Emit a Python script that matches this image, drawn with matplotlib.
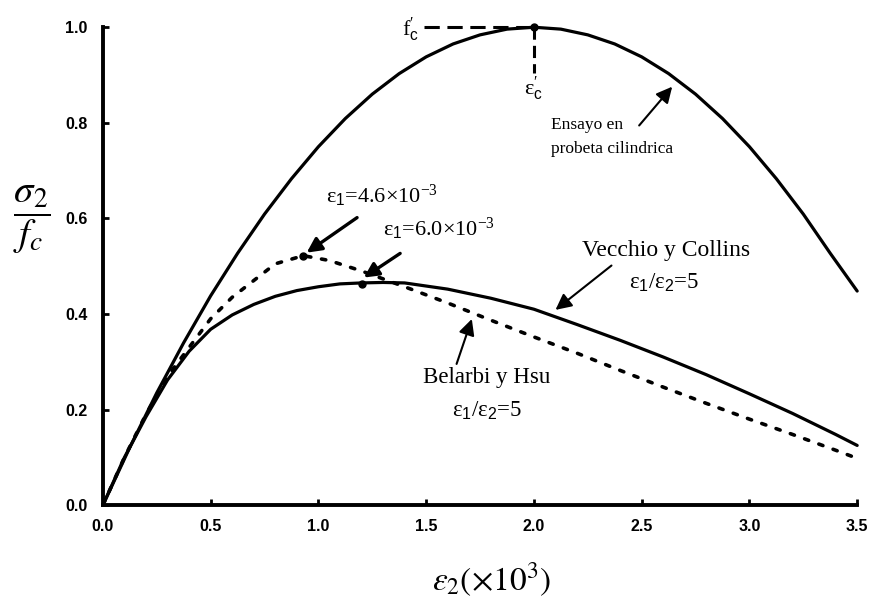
import matplotlib
matplotlib.use("Agg")
import matplotlib.pyplot as plt

# ---- data ----
x_ensayo = [0, 0.125, 0.25, 0.375, 0.5, 0.625, 0.75, 0.875, 1.0, 1.125, 1.25, 1.375, 1.5, 1.625,
            1.75, 1.875, 2.0, 2.125, 2.25, 2.375, 2.5, 2.625, 2.75, 2.875, 3.0, 3.125, 3.25, 3.375, 3.5]
y_ensayo = [0, 0.121, 0.235, 0.340, 0.438, 0.527, 0.609, 0.683, 0.750, 0.809, 0.860, 0.903, 0.938, 0.965,
            0.984, 0.996, 1.000, 0.996, 0.984, 0.965, 0.938, 0.903, 0.860, 0.809, 0.750, 0.683, 0.609, 0.527, 0.448]

x_vc = [0, 0.1, 0.2, 0.3, 0.4, 0.5, 0.6, 0.7, 0.8, 0.9, 1.0, 1.1, 1.2, 1.3, 1.4, 1.6, 1.8, 2.0,
        2.2, 2.4, 2.6, 2.8, 3.0, 3.2, 3.4, 3.5]
y_vc = [0, 0.100, 0.185, 0.262, 0.322, 0.368, 0.398, 0.420, 0.437, 0.449, 0.457, 0.463, 0.465, 0.466,
        0.465, 0.452, 0.433, 0.410, 0.378, 0.345, 0.310, 0.273, 0.233, 0.192, 0.148, 0.125]

x_bh = [0, 0.1, 0.2, 0.3, 0.4, 0.5, 0.6, 0.7, 0.8, 0.93, 1.05, 1.2, 1.4, 1.6, 1.8, 2.0, 2.2, 2.4,
        2.6, 2.8, 3.0, 3.2, 3.4, 3.5]
y_bh = [0, 0.100, 0.190, 0.270, 0.330, 0.390, 0.435, 0.470, 0.505, 0.522, 0.512, 0.490, 0.457, 0.423,
        0.387, 0.352, 0.318, 0.282, 0.247, 0.213, 0.180, 0.148, 0.115, 0.098]

peak_x = [2.0, 0.93, 1.2]
peak_y = [1.0, 0.522, 0.463]

x_ticks = [0.0, 0.5, 1.0, 1.5, 2.0, 2.5, 3.0, 3.5]
y_ticks = [0.0, 0.2, 0.4, 0.6, 0.8, 1.0]

plt.rcParams['mathtext.fontset'] = 'custom'
plt.rcParams['mathtext.rm'] = 'Liberation Serif'
plt.rcParams['mathtext.it'] = 'Liberation Serif:italic'
plt.rcParams['mathtext.bf'] = 'Liberation Serif:bold'
plt.rcParams['mathtext.sf'] = 'Liberation Sans'
plt.rcParams['mathtext.fallback'] = 'stix'

fig = plt.figure(figsize=(8.72, 6.05), dpi=100)
ax = fig.add_axes([0.118, 0.165, 0.865, 0.790])

lw = 2.3
ax.plot(x_ensayo, y_ensayo, color='black', lw=lw, clip_on=False, solid_capstyle='round')
ax.plot(x_vc, y_vc, color='black', lw=lw, clip_on=False, solid_capstyle='round')
ax.plot(x_bh, y_bh, color='black', lw=2.6, linestyle=(0, (1.2, 3.0)), clip_on=False,
        dash_capstyle='round')
ax.plot(peak_x, peak_y, 'o', color='black', ms=5, clip_on=False)

# dashed f'c / eps'c guides
ax.plot([1.49, 2.0], [1.0, 1.0], color='black', lw=2.2, linestyle=(0, (5, 2.5)), clip_on=False)
ax.plot([2.0, 2.0], [1.0, 0.905], color='black', lw=2.2, linestyle=(0, (4, 2)), clip_on=False)

serif = 'Liberation Serif'
ax.text(1.465, 0.995, r"f$_{\mathsf{c}}^{\prime}$", fontsize=16, family=serif, ha='right', va='center')
ax.text(2.0, 0.872, r"ε$_{\mathsf{c}}^{\prime}$", fontsize=16, ha='center', va='center', family=serif)

ax.text(2.079, 0.795, "Ensayo en", fontsize=12.5, family=serif, ha='left', va='center')
ax.text(2.079, 0.745, "probeta cilindrica", fontsize=12.5, family=serif, ha='left', va='center')
ax.annotate('', xy=(2.65, 0.88), xytext=(2.48, 0.79),
            arrowprops=dict(arrowstyle='-|>', color='black', lw=1.5, mutation_scale=24))

ax.text(1.037, 0.647, r"ε$_\mathsf{1}$=4.6×10$^{\mathregular{-3}}$", fontsize=16, family=serif,
        ha='left', va='center')
ax.annotate('', xy=(0.935, 0.525), xytext=(1.19, 0.605),
            arrowprops=dict(arrowstyle='-|>', color='black', lw=2.4, mutation_scale=22))

ax.text(1.302, 0.578, r"ε$_\mathsf{1}$=6.0×10$^{\mathregular{-3}}$", fontsize=16, family=serif,
        ha='left', va='center')
ax.annotate('', xy=(1.2, 0.473), xytext=(1.39, 0.53),
            arrowprops=dict(arrowstyle='-|>', color='black', lw=2.4, mutation_scale=22))

ax.text(2.614, 0.532, "Vecchio y Collins", fontsize=17, family=serif, ha='center', va='center')
ax.text(2.605, 0.466, r"ε$_\mathsf{1}$/ε$_\mathsf{2}$=5", fontsize=16.5, family=serif,
        ha='center', va='center')
ax.annotate('', xy=(2.09, 0.405), xytext=(2.37, 0.505),
            arrowprops=dict(arrowstyle='-|>', color='black', lw=1.5, mutation_scale=24))

ax.text(1.781, 0.267, "Belarbi y Hsu", fontsize=16.5, family=serif, ha='center', va='center')
ax.text(1.781, 0.198, r"ε$_\mathsf{1}$/ε$_\mathsf{2}$=5", fontsize=16.5, family=serif,
        ha='center', va='center')
ax.annotate('', xy=(1.716, 0.395), xytext=(1.637, 0.29),
            arrowprops=dict(arrowstyle='-|>', color='black', lw=1.5, mutation_scale=24))

ax.set_xlim(0, 3.5)
ax.set_ylim(0, 1.0)
ax.set_xticks(x_ticks)
ax.set_yticks(y_ticks)
ax.set_xticklabels([f"{v:.1f}" for v in x_ticks], fontweight='bold', fontsize=11.5, family='Liberation Sans')
ax.set_yticklabels([f"{v:.1f}" for v in y_ticks], fontweight='bold', fontsize=11.5, family='Liberation Sans')
ax.tick_params(direction='in', length=4, width=2, pad=11)
ax.tick_params(axis='x', pad=10)

for s in ['top', 'right']:
    ax.spines[s].set_visible(False)
for s in ['left', 'bottom']:
    ax.spines[s].set_linewidth(2.8)

fig.text(0.036, 0.636, r"$\dfrac{\sigma_2}{f_c}$", fontsize=28, ha='center', va='center',
         math_fontfamily='stix')
fig.text(0.564, 0.042, r"$\varepsilon_2\left(\times 10^3\right)$", fontsize=24, ha='center', va='center',
         math_fontfamily='stix')

fig.savefig('out.png', dpi=100)
